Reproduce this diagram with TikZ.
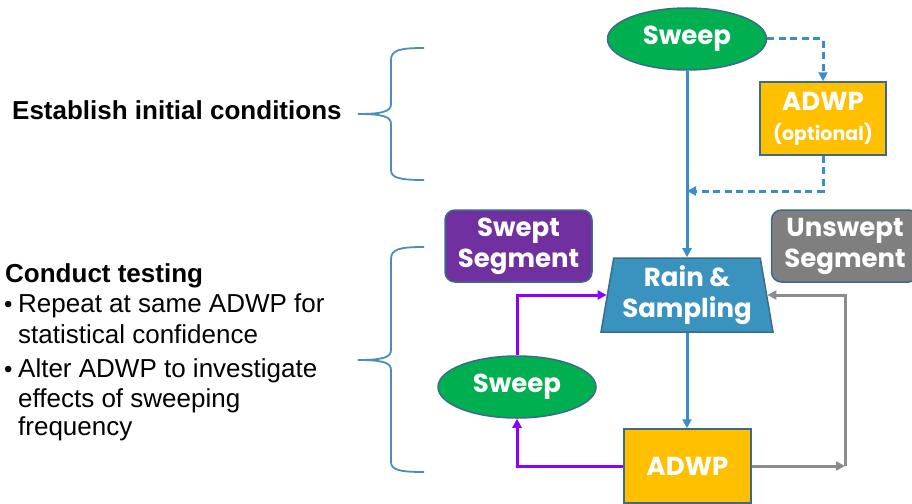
\documentclass[tikz,border=0pt]{standalone}
\usepackage{fontspec}
\setmainfont{Liberation Sans}
\newfontfamily\nodefont{Poppins}
\usetikzlibrary{arrows.meta,shapes.geometric}
\definecolor{sweepgreen}{HTML}{00B050}
\definecolor{adwpgold}{HTML}{FFC000}
\definecolor{rainblue}{HTML}{3A93BE}
\definecolor{sweptpurple}{HTML}{7030A0}
\definecolor{unsweptgray}{HTML}{7F7F7F}
\definecolor{edgeblue}{HTML}{3A6B8C}
\definecolor{flowblue}{HTML}{3A8DC8}
\definecolor{flowviolet}{HTML}{8B00FF}
\definecolor{flowgray}{HTML}{8C8C8C}
\definecolor{bracecol}{HTML}{4B8FB8}
\begin{document}
\begin{tikzpicture}[x=1pt,y=-1pt,
  box/.style={draw=edgeblue, line width=1.5pt, text=white,
    font=\nodefont\bfseries\fontsize{26}{31}\selectfont, align=center, inner sep=0pt},
  oval/.style={box, ellipse, fill=sweepgreen},
  bluearrow/.style={draw=flowblue, line width=3pt, -{Triangle[length=9pt,width=9pt]}},
  dashedarrow/.style={bluearrow, dash pattern=on 7pt off 4.5pt},
  violetarrow/.style={draw=flowviolet, line width=3pt, -{Triangle[length=9pt,width=9pt]}},
  grayarrow/.style={draw=flowgray, line width=3pt, -{Triangle[length=9pt,width=9pt]}},
  bracestyle/.style={draw=bracecol, line width=1.8pt},
  lefttext/.style={anchor=base west, inner sep=0pt, font=\fontsize{26}{30}\selectfont},
  leftbold/.style={lefttext, font=\bfseries\fontsize{26}{30}\selectfont},
  bulletmark/.style={anchor=base west, inner sep=0pt, font=\fontsize{24}{26}\selectfont}]
\useasboundingbox (0,0) rectangle (912,503);

% nodes
\node[oval, minimum width=159pt, minimum height=62pt] (sweep1) at (687,39) {Sweep};
\node[box, fill=adwpgold, minimum width=126pt, minimum height=73pt] (adwp1) at (823,118.5)
  {ADWP\\[-1pt]{\fontsize{19}{21}\selectfont (optional)}};
\node[box, rounded corners=10pt, fill=sweptpurple, minimum width=147pt, minimum height=72pt] (swept) at (518.5,246) {Swept\\Segment};
\node[box, rounded corners=10pt, fill=unsweptgray, minimum width=147pt, minimum height=72pt] (unswept) at (845,246) {Unswept\\Segment};
\node[box, trapezium, trapezium stretches body, fill=rainblue, minimum width=172pt, minimum height=74pt,
  trapezium angle=77.8] (rain) at (687,295) {Rain \&\\Sampling};
\node[oval, minimum width=158pt, minimum height=62pt] (sweep2) at (517,387) {Sweep};
\node[box, fill=adwpgold, minimum width=127pt, minimum height=74pt] (adwp2) at (687.5,466) {ADWP};

\coordinate (join) at (687,191);
\coordinate (graycorner) at (845,466);

% connectors
\draw[bluearrow] (sweep1.south) -- (rain.north);
\draw[dashedarrow] (sweep1.east) -| (adwp1.north);
\draw[dashedarrow] (adwp1.south) |- (join);
\draw[bluearrow] (rain.south) -- (rain.south |- adwp2.north);
\draw[violetarrow] (adwp2.west) -| (sweep2.south);
\draw[violetarrow] (sweep2.north) |- (rain.west);
\draw[grayarrow] (adwp2.east) -- (graycorner);
\draw[grayarrow] (graycorner) |- (rain.east);

% braces
\draw[bracestyle] (424,48) .. controls (400,48) and (391,50) .. (391,60) -- (391,104)
  .. controls (391,111) and (384,114) .. (358,114)
  .. controls (384,114) and (391,117) .. (391,124) -- (391,170)
  .. controls (391,178) and (400,180) .. (424,180);
\draw[bracestyle] (424,247) .. controls (400,247) and (391,249) .. (391,259) -- (391,350)
  .. controls (391,357) and (384,360) .. (358,360)
  .. controls (384,360) and (391,363) .. (391,370) -- (391,462)
  .. controls (391,470) and (400,472) .. (424,472);

% left texts
\node[leftbold] (establish) at (12,119) {Establish initial conditions};
\node[leftbold] (conduct) at (5,282) {Conduct testing};
\node[bulletmark] (b1) at (4,312) {•};
\node[lefttext] (l1) at (18,312) {Repeat at same ADWP for};
\node[lefttext] (l2) at (18,343) {statistical confidence};
\node[bulletmark] (b2) at (4,377) {•};
\node[lefttext] (l3) at (18,377) {Alter ADWP to investigate};
\node[lefttext] (l4) at (18,407) {effects of sweeping};
\node[lefttext] (l5) at (18,435) {frequency};
\end{tikzpicture}
\end{document}
